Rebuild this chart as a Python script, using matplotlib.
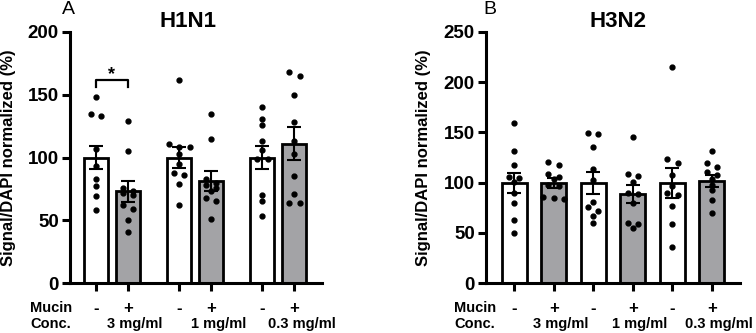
import matplotlib.pyplot as plt
import matplotlib.transforms as mtransforms
import numpy as np

plt.rcParams["font.family"] = ["Liberation Sans", "DejaVu Sans"]

# ---- data ----
conditions = ["-", "+", "-", "+", "-", "+"]
conc_labels = ["3 mg/ml", "1 mg/ml", "0.3 mg/ml"]

h1n1_means = [100, 73, 100, 81.5, 100, 111]
h1n1_sem = [9, 8.5, 8, 8, 9.5, 13]
h1n1_points = [
    [148, 135, 133, 107, 93, 83, 77, 69, 58],
    [129, 105, 76, 73, 72, 70, 62, 59, 50, 41],
    [162, 111, 108, 108, 103, 95, 88, 86, 79, 62],
    [135, 115, 83, 80, 78, 76, 73, 68, 65, 51],
    [140, 131, 126, 113, 106, 99, 99, 70, 65, 53],
    [168, 165, 150, 128, 113, 103, 85, 71, 64, 64],
]

h3n2_means = [100, 100, 100, 89, 100, 101.5]
h3n2_sem = [10, 5, 11, 9, 15, 6]
h3n2_points = [
    [159, 131, 118, 106, 105, 101, 90, 80, 63, 50],
    [121, 118, 109, 106, 104, 98, 97, 86, 85, 84],
    [149, 148, 135, 114, 103, 81, 76, 72, 67, 60],
    [145, 109, 107, 101, 90, 89, 80, 60, 59, 55],
    [215, 124, 120, 108, 97, 90, 88, 77, 59, 36],
    [131, 120, 116, 111, 108, 104, 98, 93, 83, 70],
]

bar_colors = ["white", "#a3a3a6"]


def spread(values, y_px, step):
    # group near-equal values into rows and centre each row on the bar
    vals = sorted(values, reverse=True)
    xs, ys = [], []
    row = [vals[0]]
    rows = []
    for v in vals[1:]:
        if (row[0] - v) * y_px < 5:
            row.append(v)
        else:
            rows.append(row)
            row = [v]
    rows.append(row)
    for r in rows:
        n = len(r)
        for i, v in enumerate(r):
            xs.append((i - (n - 1) / 2) * step)
            ys.append(v)
    return np.array(xs), np.array(ys)


def panel(ax, xpos, width, means, sem, points, ymax, title, title_x, y_px, x_px):
    for i, x in enumerate(xpos):
        ax.bar(x, means[i], width=width, color=bar_colors[i % 2],
               edgecolor="black", linewidth=2, zorder=2)
        ax.errorbar(x, means[i], yerr=sem[i], color="black", capsize=5,
                    elinewidth=1.5, capthick=1.5, zorder=3)
        dx, ys = spread(points[i], y_px, 10.5 / x_px)
        ax.plot(x + dx, ys, "o", color="black", ms=3.5, zorder=4)

    ax.set_ylim(0, ymax)
    ax.set_yticks(np.arange(0, ymax + 1, 50))
    ax.spines[["top", "right"]].set_visible(False)
    ax.spines[["left", "bottom"]].set_linewidth(2.2)
    ax.tick_params(axis="y", length=6, width=2.2, labelsize=13.5, pad=2)
    ax.tick_params(axis="x", length=6, width=2.2, labelbottom=False)
    for lab in ax.get_yticklabels():
        lab.set_fontweight("bold")
    ax.set_xticks(xpos)
    ax.set_ylabel("Signal/DAPI normalized (%)", fontsize=12, fontweight="bold")
    ax.set_title(title, fontsize=16, fontweight="bold", pad=-12, x=title_x)

    trans = mtransforms.blended_transform_factory(ax.transData, ax.transAxes)
    for i, x in enumerate(xpos):
        ax.text(x, -0.1, conditions[i], transform=trans, ha="center",
                va="center", fontsize=12, fontweight="bold")
    for j in range(3):
        ax.text(xpos[2 * j + 1] + 7 / x_px, -0.165, conc_labels[j],
                transform=trans, ha="center", va="center", fontsize=10.5,
                fontweight="bold")


fig = plt.figure(figsize=(7.56, 3.33), dpi=100)

# panel A: grouped bars
ax1 = fig.add_axes([70 / 756, 50 / 333, 252 / 756, 251 / 333])
xa = [g * 2.6 + m for g in range(3) for m in range(2)]
panel(ax1, xa, 0.75, h1n1_means, h1n1_sem, h1n1_points, 200, "H1N1", 0.468,
      251 / 200, 32)
ax1.set_xlim(-0.81, 7.06)
ax1.yaxis.set_label_coords(-0.215, 0.5)

# significance bracket between first pair
ax1.plot([xa[0], xa[0], xa[1], xa[1]], [156, 162, 162, 156], color="black",
         lw=1.6, zorder=5)
ax1.text((xa[0] + xa[1]) / 2, 166, "*", ha="center", va="center",
         fontsize=13, fontweight="bold")

# panel B: evenly spaced bars
ax2 = fig.add_axes([486 / 756, 50 / 333, 254 / 756, 251 / 333])
xb = list(range(6))
panel(ax2, xb, 0.63, h3n2_means, h3n2_sem, h3n2_points, 250, "H3N2", 0.52,
      251 / 250, 39.6)
ax2.set_xlim(-0.71, 5.71)
ax2.yaxis.set_label_coords(-0.217, 0.5)

for x0 in (30, 454):
    fig.text(x0 / 756, 1 - 308 / 333, "Mucin", ha="left", va="center",
             fontsize=10.5, fontweight="bold")
    fig.text(x0 / 756, 1 - 324 / 333, "Conc.", ha="left", va="center",
             fontsize=10.5, fontweight="bold")

fig.text(68 / 756, 1 - 9 / 333, "A", ha="center", va="center", fontsize=14)
fig.text(490 / 756, 1 - 9 / 333, "B", ha="center", va="center", fontsize=14)

fig.savefig("out.png", dpi=100)
